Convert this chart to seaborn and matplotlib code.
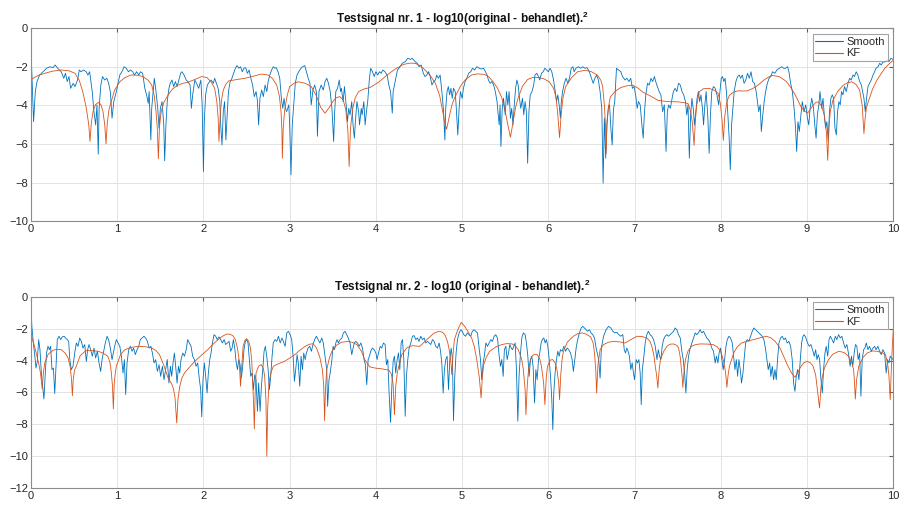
import matplotlib
matplotlib.use("Agg")
import matplotlib.pyplot as plt
import seaborn as sns
import pandas as pd

# ---------------- data ----------------
smooth1 = [
(0.0,-0.95),(0.012,-2.6),(0.03,-4.84),(0.05,-3.28),(0.07,-2.76),(0.1,-2.42),(0.14,-2.25),(0.18,-2.07),
(0.22,-1.99),(0.255,-2.04),(0.28,-1.9),(0.31,-2.07),(0.35,-2.25),(0.38,-2.59),(0.40,-2.33),(0.42,-2.76),
(0.44,-2.5),(0.46,-3.11),(0.49,-2.85),(0.51,-3.02),(0.54,-2.68),(0.56,-2.16),(0.58,-2.25),(0.61,-2.16),
(0.64,-2.25),(0.66,-2.42),(0.68,-2.25),(0.71,-3.28),(0.73,-4.32),(0.75,-5.01),(0.765,-3.97),(0.78,-6.53),
(0.79,-4.15),(0.81,-2.94),(0.83,-2.5),(0.855,-2.68),(0.88,-2.59),(0.9,-2.85),(0.92,-3.28),(0.94,-4.66),
(0.96,-3.8),(0.985,-3.37),(1.01,-2.85),(1.03,-2.42),(1.055,-2.25),(1.08,-1.99),(1.105,-2.07),(1.13,-2.25),
(1.155,-2.16),(1.18,-2.25),(1.2,-2.42),(1.225,-2.25),(1.25,-2.42),(1.27,-2.25),(1.295,-2.33),(1.32,-3.11),
(1.34,-3.45),(1.36,-3.89),(1.37,-3.28),(1.39,-5.79),(1.40,-4.15),(1.43,-2.59),(1.45,-3.28),(1.47,-4.15),
(1.485,-5.18),(1.50,-4.15),(1.52,-3.8),(1.54,-5.01),(1.55,-6.87),(1.565,-5.01),(1.58,-3.8),(1.6,-3.11),
(1.615,-2.85),(1.635,-2.68),(1.655,-3.02),(1.675,-2.76),(1.695,-3.02),(1.715,-2.68),(1.735,-2.33),(1.75,-2.25),
(1.775,-2.42),(1.8,-2.68),(1.82,-2.76),(1.845,-2.94),(1.86,-4.15),(1.875,-3.45),(1.9,-2.68),(1.92,-2.85),
(1.945,-3.11),(1.97,-2.68),(1.985,-3.97),(2.0,-7.43),(2.01,-4.84),(2.025,-3.45),(2.045,-2.94),(2.07,-2.76),
(2.09,-2.68),(2.115,-2.85),(2.13,-2.59),(2.15,-2.85),(2.17,-3.11),(2.19,-3.8),(2.2,-5.01),(2.215,-6.05),
(2.23,-4.32),(2.245,-3.8),(2.26,-5.79),(2.28,-4.15),(2.29,-3.28),(2.31,-2.76),(2.33,-2.59),(2.35,-2.33),
(2.37,-2.07),(2.39,-1.93),(2.41,-2.07),(2.43,-1.99),(2.45,-2.25),(2.47,-2.07),(2.49,-2.04),(2.51,-2.33),
(2.53,-2.16),(2.55,-2.59),(2.57,-2.94),(2.59,-3.54),(2.61,-3.28),(2.625,-3.71),(2.64,-5.01),(2.655,-3.63),
(2.675,-3.2),(2.695,-3.54),(2.715,-2.94),(2.735,-3.28),(2.75,-2.76),(2.77,-2.42),(2.79,-2.16),(2.81,-1.99),
(2.83,-2.07),(2.845,-2.04),(2.865,-2.25),(2.885,-2.59),(2.905,-3.71),(2.92,-4.15),(2.935,-3.63),(2.95,-4.15),
(2.965,-4.32),(2.99,-3.97),(3.0,-5.01),(3.015,-7.6),(3.03,-5.01),(3.05,-3.8),(3.065,-2.85),(3.085,-2.42),
(3.105,-2.25),(3.13,-2.07),(3.15,-1.99),(3.175,-1.93),(3.195,-2.25),(3.215,-2.59),(3.235,-2.85),(3.25,-3.97),
(3.27,-3.2),(3.29,-2.94),(3.31,-3.3),(3.322,-5.6),(3.34,-3.28),(3.365,-2.94),(3.39,-3.2),(3.41,-2.76),
(3.43,-2.59),(3.45,-2.85),(3.47,-3.28),(3.49,-4.15),(3.51,-5.87),(3.52,-4.49),(3.535,-3.28),(3.555,-3.11),
(3.575,-2.68),(3.59,-3.28),(3.6,-3.11),(3.62,-3.8),(3.635,-3.02),(3.655,-3.97),(3.67,-4.84),(3.685,-4.15),
(3.7,-4.49),(3.72,-3.8),(3.735,-5.01),(3.75,-5.7),(3.765,-4.66),(3.78,-3.8),(3.8,-4.32),(3.81,-5.01),
(3.83,-4.15),(3.84,-4.49),(3.86,-3.8),(3.875,-5.01),(3.89,-4.32),(3.905,-3.8),(3.925,-2.59),(3.94,-2.07),
(3.96,-2.25),(3.98,-2.5),(4.0,-2.25),(4.02,-2.42),(4.04,-2.25),(4.06,-2.33),(4.08,-2.16),(4.105,-2.25),
(4.13,-2.42),(4.15,-2.94),(4.17,-3.28),(4.19,-4.4),(4.2,-3.28),(4.23,-2.59),(4.25,-2.16),(4.28,-1.99),
(4.305,-1.81),(4.34,-1.73),(4.37,-1.55),(4.4,-1.61),(4.42,-1.55),(4.455,-1.73),(4.48,-1.81),(4.5,-1.99),
(4.525,-1.9),(4.55,-2.33),(4.57,-2.5),(4.59,-2.42),(4.61,-2.25),(4.63,-2.5),(4.65,-2.94),(4.67,-2.76),
(4.69,-2.68),(4.705,-2.42),(4.725,-2.59),(4.745,-2.42),(4.765,-3.28),(4.785,-4.32),(4.8,-5.79),(4.81,-4.15),
(4.825,-3.28),(4.84,-3.02),(4.855,-3.45),(4.87,-3.11),(4.885,-3.63),(4.9,-3.11),(4.92,-3.28),(4.93,-3.97),
(4.95,-5.53),(4.965,-4.15),(4.98,-3.28),(5.0,-3.63),(5.015,-3.11),(5.035,-2.76),(5.055,-2.59),(5.075,-2.33),
(5.1,-2.25),(5.12,-2.07),(5.145,-2.16),(5.17,-1.99),(5.2,-2.07),(5.22,-2.11),(5.25,-2.07),(5.27,-2.25),
(5.29,-2.42),(5.305,-2.68),(5.325,-2.85),(5.345,-2.76),(5.365,-2.94),(5.385,-3.28),(5.405,-3.8),(5.415,-4.32),
(5.43,-5.01),(5.44,-3.97),(5.45,-6.13),(5.465,-4.15),(5.48,-3.63),(5.5,-4.49),(5.515,-3.28),(5.53,-3.97),
(5.545,-3.28),(5.56,-4.66),(5.575,-4.15),(5.59,-5.01),(5.605,-3.97),(5.62,-3.11),(5.635,-2.68),(5.65,-2.94),
(5.665,-3.63),(5.68,-4.15),(5.7,-3.63),(5.715,-4.49),(5.73,-3.8),(5.745,-4.32),(5.76,-7.0),(5.775,-4.32),
(5.79,-3.45),(5.81,-3.28),(5.83,-2.94),(5.845,-2.42),(5.865,-2.33),(5.885,-2.5),(5.9,-2.68),(5.92,-2.33),
(5.94,-2.25),(5.96,-2.07),(5.98,-2.16),(6.0,-2.25),(6.02,-2.07),(6.04,-2.25),(6.06,-2.68),(6.08,-3.28),
(6.095,-3.8),(6.11,-3.45),(6.125,-3.97),(6.14,-4.66),(6.15,-3.8),(6.165,-3.28),(6.185,-2.85),(6.205,-2.59),
(6.225,-2.85),(6.245,-2.59),(6.265,-2.07),(6.285,-1.99),(6.3,-2.25),(6.32,-2.07),(6.35,-1.99),(6.375,-2.07),
(6.4,-1.99),(6.425,-2.07),(6.45,-2.04),(6.475,-2.25),(6.5,-2.59),(6.52,-2.85),(6.54,-2.59),(6.56,-2.42),
(6.58,-2.68),(6.6,-3.28),(6.62,-4.15),(6.635,-8.03),(6.65,-4.66),(6.665,-6.74),(6.68,-5.01),(6.695,-4.15),
(6.71,-3.97),(6.725,-5.2),(6.74,-6.05),(6.755,-4.2),(6.77,-3.8),(6.79,-2.07),(6.815,-2.16),(6.84,-2.25),
(6.86,-2.5),(6.89,-2.68),(6.91,-2.59),(6.935,-2.76),(6.955,-2.59),(6.975,-3.11),(6.995,-3.02),(7.015,-3.54),
(7.03,-4.15),(7.045,-3.8),(7.065,-3.97),(7.085,-5.01),(7.1,-5.7),(7.115,-4.32),(7.13,-3.45),(7.15,-2.85),
(7.17,-2.94),(7.19,-2.59),(7.21,-2.76),(7.23,-2.5),(7.245,-2.76),(7.265,-3.02),(7.285,-3.28),(7.305,-3.45),
(7.325,-4.32),(7.345,-3.97),(7.365,-6.39),(7.38,-4.32),(7.395,-3.97),(7.415,-4.15),(7.435,-3.63),(7.45,-3.28),
(7.47,-3.11),(7.49,-3.28),(7.51,-2.85),(7.53,-2.94),(7.55,-3.28),(7.57,-3.45),(7.59,-3.8),(7.605,-4.49),
(7.62,-3.97),(7.635,-6.74),(7.65,-4.49),(7.665,-3.63),(7.68,-4.15),(7.695,-5.01),(7.71,-4.32),(7.725,-3.63),
(7.74,-3.28),(7.755,-3.8),(7.77,-3.45),(7.787,-4.15),(7.8,-5.01),(7.815,-3.97),(7.83,-3.28),(7.85,-4.66),
(7.865,-6.48),(7.88,-4.49),(7.895,-3.28),(7.915,-3.02),(7.935,-3.11),(7.955,-3.45),(7.975,-3.97),(7.99,-3.28),
(8.005,-2.59),(8.02,-2.5),(8.035,-2.76),(8.05,-2.59),(8.065,-3.28),(8.08,-4.32),(8.097,-5.7),(8.11,-7.34),
(8.125,-5.01),(8.14,-4.15),(8.155,-3.28),(8.175,-2.76),(8.195,-2.5),(8.215,-2.42),(8.23,-2.59),(8.25,-2.42),
(8.27,-2.85),(8.29,-2.68),(8.31,-2.33),(8.33,-2.59),(8.35,-2.25),(8.37,-2.76),(8.39,-2.85),(8.41,-3.28),
(8.425,-3.8),(8.44,-4.32),(8.457,-3.97),(8.47,-5.35),(8.487,-4.49),(8.503,-3.8),(8.52,-3.28),(8.54,-2.85),
(8.56,-2.59),(8.58,-2.5),(8.6,-2.25),(8.627,-2.33),(8.65,-2.16),(8.68,-2.07),(8.705,-1.99),(8.73,-2.07),
(8.75,-2.07),(8.775,-1.99),(8.79,-2.25),(8.81,-2.85),(8.83,-3.28),(8.85,-4.15),(8.867,-5.18),(8.88,-6.39),
(8.895,-4.84),(8.91,-5.35),(8.93,-4.49),(8.945,-3.8),(8.965,-4.32),(8.985,-3.97),(9.005,-4.66),(9.02,-5.01),
(9.036,-4.15),(9.055,-3.63),(9.075,-4.15),(9.09,-5.01),(9.105,-5.7),(9.12,-4.49),(9.137,-3.97),(9.15,-3.28),
(9.17,-4.15),(9.185,-3.63),(9.2,-4.49),(9.215,-5.18),(9.23,-4.84),(9.246,-5.87),(9.26,-4.32),(9.277,-3.63),
(9.293,-3.45),(9.308,-3.63),(9.324,-5.18),(9.34,-5.53),(9.354,-4.32),(9.37,-3.8),(9.385,-3.97),(9.4,-3.28),
(9.416,-3.45),(9.435,-3.02),(9.455,-3.28),(9.475,-2.85),(9.494,-2.59),(9.513,-2.68),(9.533,-2.42),(9.55,-2.5),
(9.57,-2.25),(9.59,-2.42),(9.61,-2.76),(9.63,-2.94),(9.645,-3.28),(9.66,-3.63),(9.675,-4.32),(9.69,-3.63),
(9.707,-3.02),(9.725,-2.85),(9.745,-2.68),(9.765,-2.42),(9.784,-2.25),(9.8,-2.07),(9.823,-1.99),(9.843,-1.81),
(9.86,-1.9),(9.88,-1.76),(9.905,-1.73),(9.927,-1.64),(9.95,-1.73),(9.973,-1.55),(9.997,-1.61),
]

kf1 = [
(0.0,-2.65),(0.08,-2.45),(0.16,-2.33),(0.25,-2.22),(0.35,-2.16),(0.44,-2.2),(0.51,-2.33),(0.56,-2.7),
(0.6,-3.28),(0.64,-4.1),(0.67,-5.0),(0.684,-5.87),(0.7,-4.9),(0.72,-4.3),(0.75,-3.95),(0.785,-3.84),
(0.81,-3.95),(0.835,-4.32),(0.855,-5.0),(0.87,-5.99),(0.885,-4.9),(0.905,-4.2),(0.93,-3.8),(0.97,-3.2),
(1.03,-2.77),(1.09,-2.55),(1.16,-2.42),(1.23,-2.43),(1.3,-2.5),(1.36,-2.7),(1.4,-2.94),(1.43,-3.5),
(1.45,-4.32),(1.465,-5.2),(1.477,-6.77),(1.49,-5.1),(1.51,-4.32),(1.54,-3.85),(1.59,-3.46),(1.64,-3.15),
(1.705,-2.94),(1.76,-2.85),(1.82,-2.8),(1.9,-2.65),(1.98,-2.5),(2.04,-2.55),(2.09,-2.78),(2.13,-3.11),
(2.155,-3.8),(2.17,-4.6),(2.18,-5.87),(2.195,-4.5),(2.21,-3.7),(2.23,-3.2),(2.26,-2.9),(2.29,-2.73),
(2.38,-2.66),(2.48,-2.59),(2.58,-2.48),(2.67,-2.37),(2.75,-2.42),(2.8,-2.6),(2.85,-2.94),(2.88,-3.5),
(2.9,-4.32),(2.91,-5.3),(2.915,-6.74),(2.925,-5.2),(2.94,-4.32),(2.97,-3.5),(3.0,-3.02),(3.05,-2.85),
(3.1,-2.77),(3.18,-2.85),(3.25,-3.02),(3.31,-3.5),(3.36,-4.1),(3.41,-4.4),(3.46,-4.1),(3.5,-3.8),
(3.54,-3.6),(3.58,-3.54),(3.62,-3.7),(3.65,-4.2),(3.675,-5.3),(3.69,-7.17),(3.705,-5.2),(3.73,-4.2),
(3.76,-3.6),(3.8,-3.28),(3.86,-3.15),(3.93,-3.07),(4.03,-2.8),(4.13,-2.42),(4.22,-2.12),(4.32,-1.87),
(4.4,-1.8),(4.46,-1.82),(4.52,-1.95),(4.57,-2.16),(4.63,-2.45),(4.69,-2.85),(4.74,-3.5),(4.78,-4.43),
(4.8,-4.9),(4.82,-5.23),(4.85,-4.6),(4.88,-4.0),(4.91,-3.63),(4.98,-3.0),(5.04,-2.65),(5.11,-2.42),
(5.18,-2.36),(5.26,-2.39),(5.31,-2.52),(5.36,-2.77),(5.41,-3.1),(5.46,-3.6),(5.5,-4.3),(5.53,-5.0),
(5.56,-5.65),(5.59,-4.9),(5.62,-4.1),(5.65,-3.6),(5.7,-3.0),(5.76,-2.65),(5.82,-2.55),(5.89,-2.55),
(5.95,-2.62),(6.01,-2.77),(6.06,-3.1),(6.09,-3.6),(6.11,-4.5),(6.13,-5.67),(6.15,-4.4),(6.17,-3.6),
(6.2,-3.03),(6.27,-2.55),(6.34,-2.25),(6.43,-2.17),(6.5,-2.25),(6.57,-2.43),(6.61,-2.7),(6.63,-3.03),
(6.65,-4.0),(6.665,-5.3),(6.67,-6.5),(6.68,-4.8),(6.7,-4.0),(6.72,-3.55),(6.78,-3.25),(6.84,-3.07),
(6.91,-2.98),(6.98,-2.95),(7.04,-3.1),(7.09,-3.29),(7.18,-3.5),(7.27,-3.73),(7.38,-3.8),(7.5,-3.81),
(7.57,-3.85),(7.62,-3.9),(7.65,-4.3),(7.67,-4.9),(7.69,-6.07),(7.705,-4.8),(7.72,-4.0),(7.75,-3.29),
(7.8,-3.13),(7.87,-3.12),(7.93,-3.22),(7.97,-3.38),(7.995,-3.9),(8.015,-4.8),(8.03,-5.81),(8.045,-4.6),
(8.07,-3.8),(8.1,-3.47),(8.15,-3.3),(8.2,-3.24),(8.26,-3.25),(8.31,-3.24),(8.37,-3.12),(8.43,-2.95),
(8.51,-2.65),(8.59,-2.43),(8.68,-2.51),(8.76,-2.75),(8.82,-3.12),(8.88,-3.6),(8.93,-4.07),(8.97,-4.3),
(9.01,-4.38),(9.06,-4.05),(9.1,-3.85),(9.13,-3.81),(9.17,-4.05),(9.2,-4.5),(9.225,-5.4),(9.24,-6.85),
(9.255,-5.1),(9.27,-4.3),(9.3,-3.73),(9.36,-3.25),(9.42,-2.95),(9.47,-2.82),(9.52,-2.77),(9.57,-2.92),
(9.61,-3.2),(9.64,-4.0),(9.66,-5.46),(9.675,-4.6),(9.69,-4.1),(9.71,-3.81),(9.76,-3.15),(9.81,-2.69),
(9.86,-2.35),(9.9,-2.08),(9.95,-1.85),(10.0,-1.65),
]

smooth2 = [
(0.0,-0.5),(0.01,-1.86),(0.027,-2.9),(0.043,-3.63),(0.058,-4.47),(0.073,-4.05),(0.089,-2.69),(0.104,-3.32),
(0.12,-4.78),(0.135,-5.61),(0.15,-6.41),(0.166,-4.78),(0.18,-3.53),(0.197,-3.11),(0.213,-3.32),(0.228,-3.11),
(0.243,-4.57),(0.26,-4.47),(0.275,-6.07),(0.29,-4.36),(0.305,-2.69),(0.325,-2.48),(0.344,-2.69),(0.363,-2.52),
(0.383,-2.48),(0.4,-2.59),(0.42,-2.69),(0.437,-2.8),(0.45,-3.94),(0.468,-4.57),(0.487,-4.36),(0.507,-3.53),
(0.526,-2.9),(0.545,-3.11),(0.565,-2.59),(0.584,-2.8),(0.603,-3.22),(0.623,-3.0),(0.642,-4.05),(0.657,-3.32),
(0.673,-3.0),(0.692,-3.32),(0.711,-3.73),(0.731,-3.22),(0.75,-3.84),(0.77,-3.42),(0.789,-4.15),(0.808,-4.68),
(0.824,-3.94),(0.843,-3.42),(0.862,-2.9),(0.882,-2.48),(0.9,-2.69),(0.92,-3.22),(0.94,-3.94),(0.955,-3.53),
(0.97,-3.11),(0.99,-2.69),(1.01,-2.9),(1.03,-3.11),(1.048,-3.73),(1.067,-4.78),(1.083,-3.94),(1.098,-6.13),
(1.114,-4.15),(1.133,-3.32),(1.152,-3.11),(1.172,-3.42),(1.19,-3.22),(1.21,-3.63),(1.23,-3.32),(1.25,-3.11),
(1.268,-2.69),(1.288,-2.59),(1.31,-2.48),(1.33,-2.59),(1.35,-2.8),(1.37,-3.22),(1.39,-3.11),(1.408,-3.53),
(1.427,-4.15),(1.446,-3.94),(1.466,-4.68),(1.485,-4.26),(1.504,-4.99),(1.524,-4.36),(1.543,-5.2),(1.562,-4.57),
(1.58,-3.94),(1.6,-5.41),(1.617,-4.36),(1.632,-4.99),(1.647,-4.15),(1.663,-3.53),(1.678,-4.36),(1.694,-5.41),
(1.71,-4.36),(1.725,-4.78),(1.74,-3.94),(1.76,-3.53),(1.78,-3.73),(1.8,-3.32),(1.817,-2.69),(1.837,-2.9),
(1.856,-3.11),(1.875,-3.73),(1.895,-3.94),(1.914,-4.36),(1.933,-4.15),(1.953,-5.2),(1.968,-5.82),(1.98,-7.53),
(1.995,-5.2),(2.01,-4.15),(2.026,-4.99),(2.042,-6.03),(2.057,-4.78),(2.073,-3.94),(2.088,-3.53),(2.104,-2.9),
(2.123,-2.38),(2.142,-2.48),(2.16,-2.69),(2.18,-2.52),(2.2,-2.69),(2.22,-2.9),(2.24,-2.69),(2.258,-3.0),
(2.278,-2.9),(2.297,-2.8),(2.316,-3.42),(2.332,-3.22),(2.347,-2.69),(2.363,-3.22),(2.378,-4.05),(2.394,-4.57),
(2.41,-3.94),(2.425,-4.26),(2.44,-5.09),(2.455,-4.36),(2.47,-3.32),(2.486,-2.8),(2.5,-2.69),(2.517,-2.9),
(2.533,-3.94),(2.548,-4.99),(2.564,-4.78),(2.58,-5.82),(2.595,-4.89),(2.61,-5.2),(2.626,-7.18),(2.64,-5.41),
(2.657,-7.18),(2.672,-5.61),(2.688,-4.57),(2.703,-3.42),(2.718,-3.11),(2.734,-3.73),(2.75,-4.57),(2.765,-5.82),
(2.78,-4.99),(2.796,-3.73),(2.81,-2.9),(2.83,-2.69),(2.85,-2.8),(2.87,-2.48),(2.89,-2.9),(2.91,-2.59),
(2.927,-2.8),(2.947,-3.11),(2.966,-2.27),(2.985,-2.17),(3.005,-2.38),(3.024,-2.69),(3.04,-3.73),(3.055,-5.3),
(3.07,-4.57),(3.086,-3.63),(3.1,-4.15),(3.117,-5.61),(3.132,-3.73),(3.148,-4.57),(3.163,-3.53),(3.18,-3.94),
(3.194,-3.53),(3.213,-3.22),(3.233,-3.11),(3.252,-3.42),(3.27,-3.0),(3.29,-2.69),(3.31,-2.48),(3.33,-2.69),
(3.35,-2.9),(3.372,-2.59),(3.39,-2.9),(3.41,-3.73),(3.43,-4.57),(3.44,-6.87),(3.456,-5.2),(3.47,-4.78),
(3.49,-3.94),(3.503,-3.11),(3.52,-3.32),(3.535,-2.9),(3.55,-2.69),(3.565,-2.9),(3.585,-2.69),(3.605,-2.59),
(3.623,-2.27),(3.643,-2.17),(3.662,-2.38),(3.68,-2.59),(3.7,-2.9),(3.72,-3.63),(3.736,-3.22),(3.75,-2.9),
(3.766,-2.8),(3.786,-2.9),(3.805,-3.11),(3.825,-2.9),(3.844,-3.22),(3.863,-3.94),(3.878,-4.26),(3.894,-5.51),
(3.91,-3.94),(3.925,-3.73),(3.94,-3.42),(3.96,-3.22),(3.98,-3.32),(4.0,-3.53),(4.014,-3.94),(4.03,-3.53),
(4.05,-3.11),(4.068,-3.22),(4.088,-2.9),(4.107,-3.0),(4.122,-4.26),(4.138,-3.94),(4.153,-6.03),(4.17,-7.87),
(4.185,-5.61),(4.2,-4.05),(4.215,-3.73),(4.23,-4.78),(4.246,-3.94),(4.262,-3.53),(4.277,-4.57),(4.293,-2.9),
(4.308,-2.69),(4.324,-3.94),(4.34,-7.49),(4.354,-4.99),(4.37,-3.94),(4.385,-3.22),(4.405,-2.9),(4.424,-2.48),
(4.443,-2.44),(4.462,-2.69),(4.482,-2.59),(4.5,-2.8),(4.52,-2.48),(4.54,-2.69),(4.56,-2.59),(4.578,-2.9),
(4.6,-2.8),(4.617,-2.9),(4.636,-3.0),(4.656,-2.69),(4.675,-2.8),(4.694,-3.11),(4.714,-3.22),(4.733,-2.9),
(4.75,-3.42),(4.764,-4.15),(4.78,-6.03),(4.795,-4.57),(4.81,-3.94),(4.826,-3.73),(4.842,-5.82),(4.857,-3.94),
(4.873,-3.22),(4.888,-3.94),(4.9,-7.76),(4.915,-4.99),(4.93,-3.53),(4.946,-2.69),(4.965,-2.27),(4.985,-2.07),
(5.0,-2.17),(5.02,-2.38),(5.04,-2.48),(5.06,-2.27),(5.08,-2.38),(5.1,-2.48),(5.118,-2.17),(5.14,-2.07),
(5.158,-2.17),(5.178,-2.27),(5.197,-3.22),(5.213,-3.94),(5.228,-5.2),(5.244,-4.15),(5.26,-3.63),(5.275,-2.9),
(5.294,-3.11),(5.313,-2.9),(5.333,-2.69),(5.352,-2.8),(5.371,-2.48),(5.39,-2.38),(5.41,-2.59),(5.43,-3.73),
(5.445,-4.36),(5.46,-3.94),(5.476,-4.99),(5.49,-3.32),(5.507,-3.11),(5.522,-3.94),(5.538,-3.53),(5.553,-3.0),
(5.57,-3.22),(5.584,-3.32),(5.6,-3.11),(5.615,-2.9),(5.63,-4.57),(5.646,-7.8),(5.66,-4.99),(5.677,-3.53),
(5.692,-2.59),(5.71,-2.27),(5.731,-2.38),(5.746,-2.9),(5.762,-3.73),(5.777,-4.99),(5.793,-3.94),(5.808,-3.73),
(5.823,-4.36),(5.84,-6.66),(5.855,-4.57),(5.87,-5.2),(5.886,-3.94),(5.9,-3.53),(5.916,-2.9),(5.93,-2.69),
(5.948,-2.59),(5.963,-2.9),(5.978,-2.69),(5.994,-3.11),(6.01,-3.94),(6.025,-4.99),(6.04,-6.45),(6.052,-8.33),
(6.063,-6.03),(6.078,-4.78),(6.094,-3.94),(6.11,-3.42),(6.125,-3.73),(6.14,-3.32),(6.16,-3.42),(6.18,-3.11),
(6.2,-3.42),(6.218,-3.22),(6.237,-3.32),(6.257,-3.53),(6.276,-3.94),(6.29,-4.68),(6.307,-3.94),(6.322,-3.22),
(6.34,-2.69),(6.36,-2.27),(6.38,-1.96),(6.4,-1.86),(6.418,-1.96),(6.437,-2.07),(6.456,-2.17),(6.476,-2.07),
(6.495,-2.27),(6.515,-2.38),(6.535,-2.59),(6.554,-3.22),(6.57,-3.6),(6.585,-4.0),(6.6,-5.1),(6.615,-3.2),
(6.64,-2.48),(6.67,-2.07),(6.698,-1.86),(6.725,-1.96),(6.748,-2.17),(6.77,-2.27),(6.794,-2.23),(6.817,-2.38),
(6.84,-2.48),(6.864,-2.38),(6.88,-3.32),(6.895,-3.53),(6.91,-3.22),(6.925,-3.42),(6.94,-3.73),(6.956,-4.57),
(6.972,-4.15),(6.987,-4.78),(7.0,-5.2),(7.018,-3.94),(7.034,-4.15),(7.05,-3.94),(7.065,-4.78),(7.077,-6.76),
(7.09,-4.57),(7.108,-3.73),(7.123,-2.9),(7.142,-2.38),(7.16,-2.17),(7.18,-2.38),(7.2,-2.48),(7.22,-2.69),
(7.24,-3.11),(7.26,-3.94),(7.275,-3.32),(7.29,-3.73),(7.305,-3.94),(7.32,-3.11),(7.336,-2.69),(7.355,-2.48),
(7.375,-2.38),(7.394,-2.48),(7.413,-2.38),(7.433,-2.27),(7.452,-2.17),(7.471,-1.96),(7.49,-2.07),(7.51,-2.38),
(7.53,-2.59),(7.548,-3.42),(7.564,-3.94),(7.58,-4.78),(7.595,-6.03),(7.61,-4.57),(7.626,-3.73),(7.645,-3.22),
(7.665,-2.9),(7.684,-2.59),(7.703,-2.27),(7.722,-2.38),(7.74,-2.27),(7.76,-2.07),(7.78,-2.27),(7.8,-2.17),
(7.818,-2.38),(7.838,-2.59),(7.857,-2.69),(7.877,-2.9),(7.896,-3.22),(7.915,-3.42),(7.935,-4.15),(7.95,-3.73),
(7.966,-4.15),(7.98,-3.53),(7.997,-3.22),(8.01,-3.84),(8.028,-4.57),(8.044,-3.94),(8.06,-3.11),(8.075,-2.69),
(8.094,-2.48),(8.113,-2.59),(8.133,-2.9),(8.148,-3.73),(8.164,-4.57),(8.18,-3.94),(8.195,-4.99),(8.21,-3.94),
(8.226,-4.57),(8.24,-5.41),(8.257,-4.78),(8.27,-3.94),(8.288,-2.9),(8.307,-2.69),(8.326,-2.8),(8.345,-2.48),
(8.365,-2.17),(8.384,-1.96),(8.403,-2.07),(8.422,-2.17),(8.442,-2.27),(8.461,-2.38),(8.48,-2.48),(8.5,-2.69),
(8.52,-3.32),(8.535,-3.94),(8.55,-4.57),(8.567,-4.15),(8.58,-4.99),(8.597,-4.36),(8.612,-5.2),(8.628,-4.57),
(8.643,-5.2),(8.658,-3.94),(8.674,-2.9),(8.693,-2.59),(8.712,-2.48),(8.732,-2.69),(8.75,-2.59),(8.77,-2.9),
(8.79,-2.8),(8.81,-3.11),(8.828,-3.94),(8.844,-5.41),(8.86,-5.93),(8.875,-4.99),(8.89,-4.57),(8.906,-5.2),
(8.922,-3.94),(8.937,-2.9),(8.953,-2.48),(8.968,-2.38),(8.987,-2.59),(9.006,-2.9),(9.026,-3.11),(9.045,-3.0),
(9.064,-3.32),(9.084,-3.73),(9.1,-3.32),(9.115,-3.94),(9.13,-3.63),(9.146,-3.94),(9.16,-5.09),(9.177,-6.03),
(9.192,-4.57),(9.208,-3.53),(9.223,-3.11),(9.24,-3.73),(9.255,-2.69),(9.27,-2.48),(9.29,-2.69),(9.308,-2.9),
(9.328,-2.48),(9.346,-2.69),(9.366,-2.38),(9.385,-2.59),(9.404,-2.48),(9.424,-2.9),(9.443,-3.22),(9.462,-3.0),
(9.48,-3.53),(9.5,-4.36),(9.516,-3.73),(9.53,-4.36),(9.547,-3.53),(9.562,-3.0),(9.578,-3.11),(9.593,-3.94),
(9.61,-3.53),(9.625,-6.24),(9.64,-3.94),(9.656,-3.32),(9.671,-3.22),(9.687,-2.9),(9.706,-3.32),(9.725,-3.11),
(9.745,-3.42),(9.764,-3.22),(9.784,-3.11),(9.8,-3.32),(9.822,-3.11),(9.842,-3.42),(9.86,-3.63),(9.88,-3.32),
(9.9,-3.53),(9.918,-4.78),(9.934,-3.94),(9.95,-4.15),(9.965,-3.73),(9.98,-3.84),(9.996,-3.94),
]

kf2 = [
(0.0,-2.38),(0.03,-2.9),(0.06,-3.52),(0.09,-4.2),(0.11,-4.78),(0.13,-5.78),(0.145,-4.7),(0.16,-4.15),
(0.2,-3.6),(0.255,-3.36),(0.3,-3.3),(0.35,-3.32),(0.4,-3.55),(0.43,-3.84),(0.455,-4.4),(0.47,-5.2),
(0.48,-6.2),(0.49,-5.2),(0.505,-4.6),(0.525,-4.36),(0.57,-3.7),(0.64,-3.36),(0.71,-3.38),(0.78,-3.42),
(0.84,-3.55),(0.89,-3.73),(0.915,-4.1),(0.93,-4.67),(0.945,-5.6),(0.955,-7.03),(0.965,-5.5),(0.975,-4.9),
(0.99,-4.36),(1.04,-3.6),(1.09,-3.32),(1.16,-3.18),(1.24,-3.11),(1.32,-3.13),(1.4,-3.21),(1.45,-3.38),
(1.49,-3.63),(1.54,-4.3),(1.59,-5.09),(1.63,-5.45),(1.65,-5.72),(1.67,-6.3),(1.69,-7.91),(1.705,-6.4),
(1.725,-5.62),(1.75,-5.1),(1.78,-4.78),(1.84,-4.4),(1.9,-4.05),(1.98,-3.65),(2.05,-3.32),(2.11,-2.98),
(2.17,-2.69),(2.22,-2.48),(2.27,-2.34),(2.31,-2.36),(2.34,-2.44),(2.37,-2.7),(2.39,-3.11),(2.41,-3.8),
(2.42,-4.57),(2.43,-5.61),(2.445,-4.3),(2.46,-3.11),(2.48,-2.75),(2.5,-2.63),(2.525,-2.8),(2.545,-3.21),
(2.56,-4.0),(2.57,-5.2),(2.58,-6.5),(2.59,-8.28),(2.6,-6.0),(2.61,-4.78),(2.64,-4.35),(2.67,-4.26),
(2.695,-4.5),(2.71,-4.99),(2.725,-6.5),(2.735,-10.0),(2.745,-7.0),(2.76,-5.41),(2.78,-4.8),(2.81,-4.36),
(2.87,-4.2),(2.94,-4.05),(3.0,-3.85),(3.06,-3.63),(3.12,-3.35),(3.18,-3.11),(3.23,-2.98),(3.27,-2.95),
(3.31,-3.2),(3.35,-3.8),(3.38,-4.6),(3.395,-5.6),(3.405,-7.76),(3.415,-5.8),(3.43,-4.57),(3.46,-3.85),
(3.49,-3.42),(3.54,-3.05),(3.6,-2.86),(3.68,-2.8),(3.73,-2.87),(3.78,-3.0),(3.83,-3.4),(3.87,-3.94),
(3.93,-4.4),(4.0,-4.48),(4.07,-4.52),(4.15,-4.6),(4.18,-4.85),(4.2,-5.5),(4.215,-7.39),(4.23,-5.6),
(4.25,-4.7),(4.3,-3.63),(4.36,-3.2),(4.42,-3.07),(4.51,-3.11),(4.56,-2.85),(4.61,-2.59),(4.67,-2.3),
(4.73,-2.17),(4.77,-2.22),(4.8,-2.38),(4.83,-2.8),(4.85,-3.32),(4.87,-4.1),(4.88,-4.88),(4.895,-3.6),
(4.91,-2.69),(4.95,-2.07),(4.99,-1.61),(5.03,-1.86),(5.07,-2.2),(5.11,-2.59),(5.14,-3.1),(5.17,-3.94),
(5.2,-5.1),(5.22,-6.34),(5.235,-5.0),(5.25,-4.26),(5.28,-3.8),(5.32,-3.42),(5.39,-3.15),(5.46,-3.0),
(5.52,-2.94),(5.58,-2.96),(5.62,-3.1),(5.65,-3.32),(5.69,-3.9),(5.71,-4.57),(5.73,-5.8),(5.74,-7.39),
(5.755,-5.6),(5.77,-4.57),(5.79,-4.0),(5.81,-3.73),(5.84,-3.6),(5.87,-3.63),(5.9,-3.9),(5.92,-4.36),
(5.945,-5.4),(5.96,-6.76),(5.975,-5.1),(5.99,-4.36),(6.02,-3.98),(6.05,-3.94),(6.08,-4.15),(6.1,-4.57),
(6.12,-5.4),(6.13,-6.45),(6.145,-4.8),(6.16,-3.9),(6.175,-3.42),(6.22,-2.85),(6.29,-2.48),(6.34,-2.32),
(6.39,-2.27),(6.44,-2.35),(6.49,-2.52),(6.52,-2.9),(6.535,-3.52),(6.55,-4.6),(6.56,-6.03),(6.575,-4.3),
(6.6,-3.32),(6.64,-3.0),(6.7,-2.85),(6.755,-2.8),(6.82,-2.83),(6.89,-2.9),(6.96,-2.68),(7.03,-2.48),
(7.09,-2.5),(7.14,-2.59),(7.18,-2.8),(7.2,-3.11),(7.225,-3.7),(7.24,-4.36),(7.255,-4.9),(7.27,-5.72),
(7.285,-4.6),(7.3,-3.94),(7.34,-3.4),(7.375,-3.11),(7.41,-2.98),(7.45,-2.96),(7.49,-3.05),(7.51,-3.21),
(7.53,-3.8),(7.54,-4.36),(7.55,-4.9),(7.56,-5.68),(7.575,-4.6),(7.59,-3.94),(7.62,-3.4),(7.66,-3.11),
(7.71,-3.0),(7.76,-2.96),(7.84,-2.97),(7.91,-3.0),(7.96,-3.15),(8.0,-3.42),(8.03,-4.0),(8.05,-4.57),
(8.06,-5.0),(8.07,-5.68),(8.085,-4.9),(8.1,-4.36),(8.15,-3.52),(8.19,-3.15),(8.24,-2.9),(8.31,-2.78),
(8.38,-2.69),(8.46,-2.57),(8.53,-2.48),(8.58,-2.58),(8.63,-2.8),(8.68,-3.15),(8.72,-3.63),(8.77,-4.25),
(8.82,-4.78),(8.86,-5.05),(8.89,-4.78),(8.92,-4.46),(8.96,-4.15),(9.0,-4.05),(9.04,-4.15),(9.07,-4.36),
(9.1,-4.9),(9.12,-5.82),(9.145,-6.97),(9.16,-5.8),(9.17,-5.2),(9.2,-4.5),(9.25,-3.94),(9.3,-3.6),
(9.37,-3.42),(9.43,-3.5),(9.48,-3.73),(9.52,-4.15),(9.54,-4.57),(9.55,-5.3),(9.56,-6.41),(9.575,-5.2),
(9.6,-4.36),(9.65,-3.8),(9.7,-3.52),(9.76,-3.4),(9.81,-3.42),(9.87,-3.5),(9.91,-3.63),(9.935,-4.2),
(9.95,-4.99),(9.965,-6.45),(9.978,-4.5),(9.99,-3.0),(10.0,-2.07),
]

series_names = ["Smooth", "KF"]
titles = ["Testsignal nr. 1 - log10(original - behandlet).",
          "Testsignal nr. 2 - log10 (original - behandlet)."]
x_ticks = list(range(0, 11))
y_ticks_top = [-10, -8, -6, -4, -2, 0]
y_ticks_bottom = [-12, -10, -8, -6, -4, -2, 0]

# ---------------- styling ----------------
sns.set_theme(style="white")
plt.rcParams["font.family"] = ["Liberation Sans", "DejaVu Sans"]
plt.rcParams["mathtext.fontset"] = "custom"
plt.rcParams["mathtext.rm"] = "Liberation Sans"
plt.rcParams["mathtext.bf"] = "Liberation Sans:bold"

BLUE = "#0072BD"
ORANGE = "#D95319"
palette = {"Smooth": BLUE, "KF": ORANGE}


def to_df(smooth, kf):
    rows = [(x, y, "Smooth") for x, y in smooth] + [(x, y, "KF") for x, y in kf]
    return pd.DataFrame(rows, columns=["t", "v", "serie"])


fig = plt.figure(figsize=(9.01, 5.07), dpi=100)
ax1 = fig.add_axes([0.0344, 0.564, 0.957, 0.380])
ax2 = fig.add_axes([0.0344, 0.0369, 0.957, 0.378])

for ax, (sm, kf), title, yt in [
    (ax1, (smooth1, kf1), titles[0], y_ticks_top),
    (ax2, (smooth2, kf2), titles[1], y_ticks_bottom),
]:
    df = to_df(sm, kf)
    sns.lineplot(data=df, x="t", y="v", hue="serie", hue_order=series_names,
                 palette=palette, estimator=None, sort=False, linewidth=0.6,
                 ax=ax)
    ax.set_xlim(0, 10)
    ax.set_ylim(min(yt), 0)
    ax.set_xticks(x_ticks)
    ax.set_yticks(yt)
    ax.set_xlabel("")
    ax.set_ylabel("")
    ax.grid(True, color="#e3e3e3", linewidth=0.7)
    ax.set_axisbelow(True)
    for s in ax.spines.values():
        s.set_color("#8c8c8c")
        s.set_linewidth(0.8)
    ax.tick_params(direction="in", length=3, width=0.8, color="#606060",
                   labelsize=8, labelcolor="#262626", top=True, right=True,
                   pad=2)
    ax.set_title(title + r"$^{\mathbf{2}}$", fontsize=8.5, fontweight="bold",
                 color="#111111", pad=4)
    leg = ax.legend(loc="upper right", fontsize=8, frameon=True, fancybox=False,
                    edgecolor="#8c8c8c", borderpad=0.25, labelspacing=0.15,
                    handlelength=2.5, handletextpad=0.3, borderaxespad=0.5,
                    title=None)
    leg.get_frame().set_linewidth(0.8)
    for line in leg.get_lines():
        line.set_linewidth(0.8)

fig.savefig("out.png", dpi=100)
